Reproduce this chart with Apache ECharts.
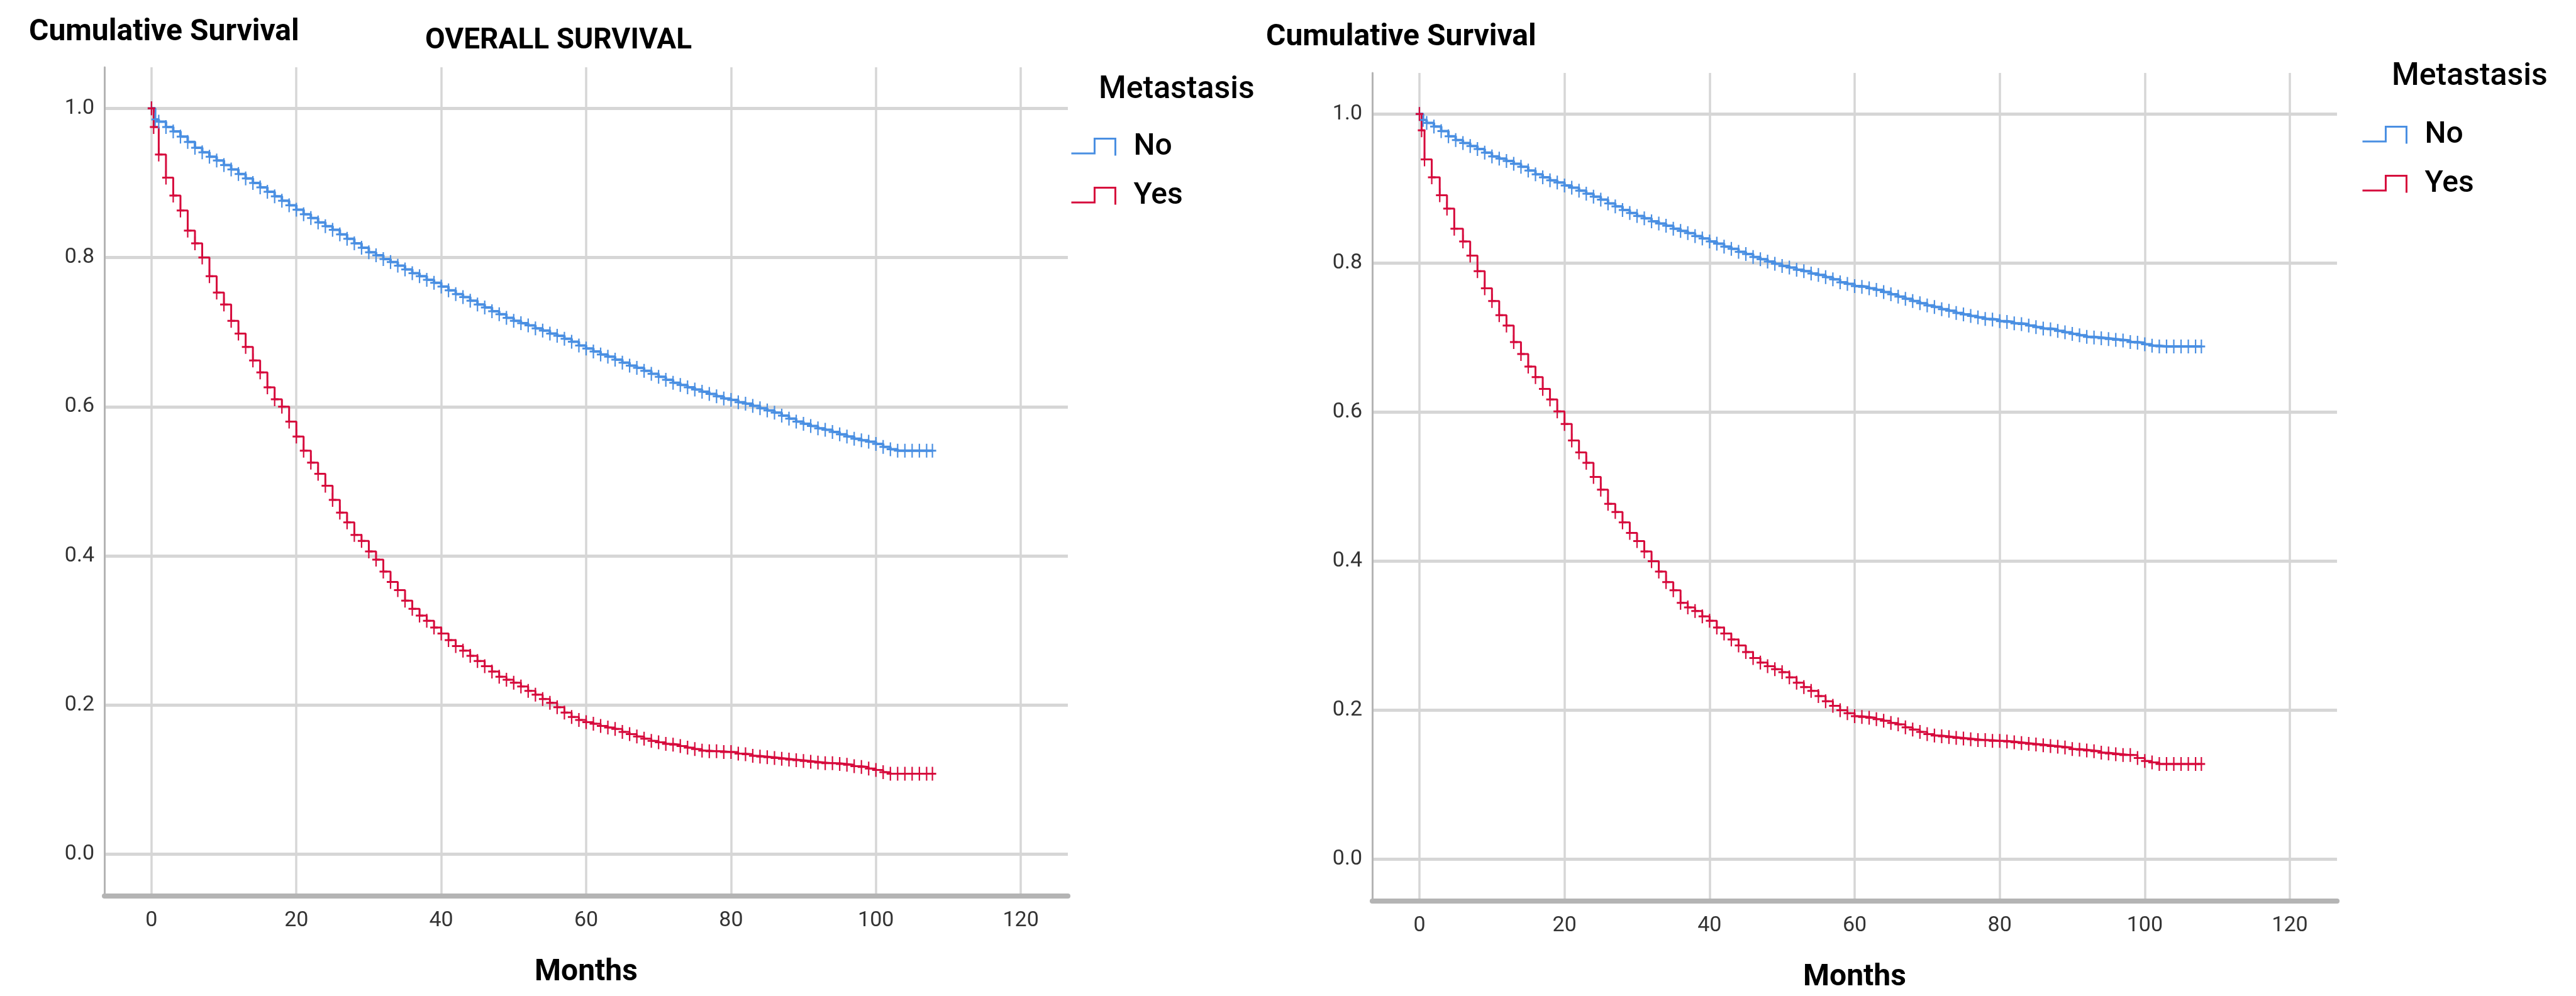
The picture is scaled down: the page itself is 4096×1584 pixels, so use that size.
<!DOCTYPE html>
<html>
<head>
<meta charset="utf-8">
<script src="https://cdn.jsdelivr.net/npm/echarts@6/dist/echarts.min.js"></script>
<style>
  html, body { margin: 0; padding: 0; background: #fff; }
  #main { width: 4096px; height: 1584px; }
</style>
</head>
<body>
<div id="main"></div>
<script>
// month ticks and survival ticks
var monthTicks = [0, 20, 40, 60, 80, 100, 120];
var survTicks = [0, 0.2, 0.4, 0.6, 0.8, 1.0];

// blue "No" curves (both panels share the month points)
var noMonths = [0, 0.5, 1, 2, 3, 4, 5, 6, 7, 8, 9, 10, 11, 12, 13, 14, 15, 16, 17, 18, 19, 20,
  21, 22, 23, 24, 25, 26, 27, 28, 29, 30, 31, 32, 33, 34, 35, 36, 37, 38, 39, 40,
  41, 42, 43, 44, 45, 46, 47, 48, 49, 50, 51, 52, 53, 54, 55, 56, 57, 58, 59, 60,
  61, 62, 63, 64, 65, 66, 67, 68, 69, 70, 71, 72, 73, 74, 75, 76, 77, 78, 79, 80,
  81, 82, 83, 84, 85, 86, 87, 88, 89, 90, 91, 92, 93, 94, 95, 96, 97, 98, 99, 100,
  101, 102, 103, 104, 105, 106, 107, 107.8];
var overallNo = [1.000, 0.985, 0.982, 0.975, 0.969, 0.962, 0.955, 0.947, 0.941, 0.935, 0.930,
  0.924, 0.918, 0.912, 0.906, 0.900, 0.894, 0.888, 0.882, 0.876, 0.870, 0.864,
  0.858, 0.853, 0.847, 0.842, 0.837, 0.831, 0.825, 0.819, 0.813, 0.807,
  0.803, 0.798, 0.794, 0.789, 0.784, 0.779, 0.775, 0.770, 0.766, 0.761,
  0.756, 0.751, 0.747, 0.742, 0.737, 0.733, 0.728, 0.724, 0.719, 0.715,
  0.712, 0.709, 0.705, 0.702, 0.698, 0.695, 0.691, 0.687, 0.682, 0.678,
  0.674, 0.670, 0.667, 0.663, 0.659, 0.655, 0.652, 0.648, 0.644, 0.640,
  0.636, 0.632, 0.629, 0.626, 0.623, 0.620, 0.617, 0.614, 0.611, 0.609,
  0.606, 0.604, 0.601, 0.598, 0.595, 0.592, 0.588, 0.584, 0.580, 0.577,
  0.574, 0.571, 0.569, 0.566, 0.563, 0.560, 0.557, 0.555, 0.553, 0.550,
  0.546, 0.543, 0.541, 0.541, 0.541, 0.541, 0.541, 0.541];
var secondNo = [1.000, 0.992, 0.988, 0.983, 0.977, 0.970, 0.965, 0.961, 0.957, 0.953, 0.948,
  0.943, 0.940, 0.937, 0.933, 0.929, 0.924, 0.919, 0.915, 0.911, 0.908, 0.904,
  0.901, 0.897, 0.893, 0.889, 0.885, 0.880, 0.876, 0.871, 0.867, 0.863,
  0.860, 0.856, 0.853, 0.850, 0.846, 0.843, 0.840, 0.836, 0.833, 0.829,
  0.826, 0.822, 0.819, 0.815, 0.812, 0.808, 0.805, 0.802, 0.799, 0.796,
  0.794, 0.791, 0.789, 0.786, 0.784, 0.781, 0.778, 0.774, 0.772, 0.769,
  0.768, 0.766, 0.764, 0.761, 0.758, 0.755, 0.752, 0.749, 0.746, 0.743,
  0.741, 0.738, 0.736, 0.733, 0.731, 0.729, 0.727, 0.725, 0.724, 0.722,
  0.721, 0.719, 0.718, 0.716, 0.714, 0.712, 0.711, 0.709, 0.707, 0.705,
  0.703, 0.701, 0.700, 0.699, 0.698, 0.697, 0.696, 0.694, 0.693, 0.691,
  0.689, 0.688, 0.688, 0.688, 0.688, 0.688, 0.688, 0.688];

// red "Yes" curves
var overallYesMonths = [0, 0.3, 1, 2, 3, 4, 5, 6, 7, 8, 9, 10, 11, 12, 13, 14, 15, 16, 17, 18, 19, 20,
  21, 22, 23, 24, 25, 26, 27, 28, 29, 30, 31, 32, 33, 34, 35, 36, 37, 38, 39, 40,
  41, 42, 43, 44, 45, 46, 47, 48, 49, 50, 51, 52, 53, 54, 55, 56, 57, 58, 59, 60,
  61, 62, 63, 64, 65, 66, 67, 68, 69, 70, 71, 72, 73, 74, 75, 76, 77, 78, 79, 80,
  81, 82, 83, 84, 85, 86, 87, 88, 89, 90, 91, 92, 93, 94, 95, 96, 97, 98, 99, 100,
  101, 102, 103, 104, 105, 106, 107, 107.8];
var overallYes = [1.000, 0.975, 0.938, 0.907, 0.883, 0.863, 0.836, 0.819, 0.800, 0.775, 0.753,
  0.737, 0.715, 0.698, 0.680, 0.662, 0.646, 0.626, 0.610, 0.600, 0.580, 0.560,
  0.541, 0.525, 0.510, 0.494, 0.475, 0.458, 0.445, 0.428, 0.420, 0.406,
  0.395, 0.379, 0.365, 0.354, 0.340, 0.329, 0.320, 0.313, 0.304, 0.296,
  0.287, 0.279, 0.273, 0.266, 0.259, 0.252, 0.245, 0.238, 0.234, 0.230,
  0.225, 0.219, 0.214, 0.208, 0.203, 0.197, 0.190, 0.184, 0.180, 0.177,
  0.175, 0.172, 0.170, 0.168, 0.164, 0.161, 0.158, 0.155, 0.152, 0.150,
  0.148, 0.147, 0.145, 0.143, 0.141, 0.139, 0.138, 0.138, 0.137, 0.137,
  0.135, 0.134, 0.132, 0.131, 0.130, 0.129, 0.128, 0.127, 0.126, 0.125,
  0.124, 0.123, 0.122, 0.122, 0.121, 0.120, 0.118, 0.117, 0.115, 0.113,
  0.110, 0.108, 0.108, 0.108, 0.108, 0.108, 0.108, 0.108];
var secondYesMonths = [0, 0.3, 0.7, 1.7, 2.8, 3.8, 4.8, 6, 7, 8, 9, 10, 11, 12, 13, 14, 15, 16, 17, 18,
  19, 20, 21, 22, 23, 24, 25, 26, 27, 28, 29, 30, 31, 32, 33, 34, 35, 36, 37, 38, 39, 40,
  41, 42, 43, 44, 45, 46, 47, 48, 49, 50, 51, 52, 53, 54, 55, 56, 57, 58, 59, 60,
  61, 62, 63, 64, 65, 66, 67, 68, 69, 70, 71, 72, 73, 74, 75, 76, 77, 78, 79, 80,
  81, 82, 83, 84, 85, 86, 87, 88, 89, 90, 91, 92, 93, 94, 95, 96, 97, 98, 99, 100,
  101, 102, 103, 104, 105, 106, 107, 107.8];
var secondYes = [1.000, 0.978, 0.939, 0.915, 0.891, 0.873, 0.846, 0.829, 0.810, 0.789, 0.766,
  0.749, 0.730, 0.716, 0.694, 0.678, 0.661, 0.647, 0.631, 0.617, 0.601, 0.584,
  0.562, 0.546, 0.532, 0.513, 0.496, 0.477, 0.466, 0.452, 0.438, 0.427,
  0.413, 0.400, 0.386, 0.372, 0.361, 0.344, 0.338, 0.333, 0.326, 0.320,
  0.311, 0.303, 0.295, 0.287, 0.278, 0.270, 0.264, 0.259, 0.255, 0.251,
  0.244, 0.237, 0.231, 0.226, 0.219, 0.212, 0.206, 0.200, 0.196, 0.192,
  0.191, 0.190, 0.188, 0.186, 0.183, 0.181, 0.177, 0.174, 0.171, 0.168,
  0.166, 0.165, 0.164, 0.163, 0.162, 0.161, 0.160, 0.160, 0.159, 0.159,
  0.158, 0.157, 0.156, 0.155, 0.154, 0.153, 0.152, 0.151, 0.150, 0.148,
  0.147, 0.146, 0.145, 0.143, 0.142, 0.141, 0.140, 0.140, 0.136, 0.132,
  0.130, 0.128, 0.128, 0.128, 0.128, 0.128, 0.128, 0.128];

var groupNames = ['No', 'Yes'];
var blue = '#4a8fe2';
var red = '#d60a3c';
var FONT = 'Roboto';
// censor mark "+", 12 wide x 22 tall
var plusMark = 'path://M4.9 0h2.2v9.5h4.9v3h-4.9v9.5h-2.2v-9.5h-4.9v-3h4.9z';
var stepIcon = 'path://M0 26H47V0H89V30';

function pairs(xs, ys) {
  return xs.map(function (x, i) { return [x, ys[i]]; });
}

var chartDom = document.getElementById('main');
var myChart = echarts.init(chartDom);

function xAxisFor(gridIndex) {
  return {
    gridIndex: gridIndex,
    type: 'value',
    min: -6.5,
    max: 126.5,
    name: 'Months',
    nameLocation: 'middle',
    nameGap: 98,
    nameTextStyle: { fontFamily: FONT, fontSize: 48, fontWeight: 'bold', color: '#000' },
    axisLine: { show: true, onZero: false, lineStyle: { color: '#b4b4b4', width: 8 } },
    axisTick: { show: false, customValues: monthTicks },
    axisLabel: { customValues: monthTicks, fontFamily: FONT, fontSize: 34, color: '#333', margin: 22 },
    splitLine: { show: true, lineStyle: { color: '#d6d6d6', width: 3.5 } }
  };
}

function yAxisFor(gridIndex) {
  return {
    gridIndex: gridIndex,
    type: 'value',
    min: -0.056,
    max: 1.055,
    axisLine: { show: true, onZero: false, lineStyle: { color: '#b4b4b4', width: 3 } },
    axisTick: { show: false, customValues: survTicks },
    axisLabel: {
      customValues: survTicks, fontFamily: FONT, fontSize: 34, color: '#333', margin: 16,
      formatter: function (v) { return v.toFixed(1); }
    },
    splitLine: { show: true, lineStyle: { color: '#d6d6d6', width: 5 } }
  };
}

function kmSeries(name, idx, xs, ys, color, width) {
  return {
    type: 'line',
    name: name,
    xAxisIndex: idx,
    yAxisIndex: idx,
    step: 'end',
    data: pairs(xs, ys),
    lineStyle: { color: color, width: width },
    itemStyle: { color: color },
    symbol: plusMark,
    symbolSize: [12, 22],
    symbolKeepAspect: false,
    showSymbol: true,
    showAllSymbol: true,
    animation: false
  };
}

function legendFor(left, top) {
  return {
    orient: 'vertical',
    left: left,
    top: top,
    padding: 0,
    itemWidth: 70,
    itemHeight: 27,
    itemGap: 30,
    selectedMode: false,
    symbolKeepAspect: false,
    icon: stepIcon,
    textStyle: { fontFamily: FONT, fontSize: 48, fontWeight: 500, color: '#000', padding: [0, 0, 0, 24] },
    data: [
      { name: groupNames[0], itemStyle: { color: 'rgba(0,0,0,0)', borderColor: blue, borderWidth: 3 } },
      { name: groupNames[1], itemStyle: { color: 'rgba(0,0,0,0)', borderColor: red, borderWidth: 3 } }
    ]
  };
}

function label(text, x, y, size, weight, align) {
  return {
    type: 'text',
    x: x,
    y: y,
    style: {
      text: text,
      fontFamily: FONT,
      fontSize: size,
      fontWeight: weight,
      fill: '#000',
      align: align || 'left',
      verticalAlign: 'middle'
    }
  };
}

var option = {
  backgroundColor: '#fff',
  animation: false,
  grid: [
    { left: 166, top: 107, width: 1532, height: 1318 },
    { left: 2182, top: 116, width: 1534, height: 1318 }
  ],
  xAxis: [xAxisFor(0), xAxisFor(1)],
  yAxis: [yAxisFor(0), yAxisFor(1)],
  legend: [legendFor(1702, 210), legendFor(3755, 191)],
  graphic: [
    label('Cumulative Survival', 46, 52, 48, 'bold'),
    label('OVERALL SURVIVAL', 888, 65, 46, 'bold', 'center'),
    label('Metastasis', 1747, 143, 50, 500),
    label('Cumulative Survival', 2013, 60, 48, 'bold'),
    label('Metastasis', 3803, 122, 50, 500)
  ],
  series: [
    kmSeries(groupNames[0], 0, noMonths, overallNo, blue, 4),
    kmSeries(groupNames[1], 0, overallYesMonths, overallYes, red, 3),
    kmSeries(groupNames[0], 1, noMonths, secondNo, blue, 4),
    kmSeries(groupNames[1], 1, secondYesMonths, secondYes, red, 3)
  ]
};

option && myChart.setOption(option);
</script>
</body>
</html>
